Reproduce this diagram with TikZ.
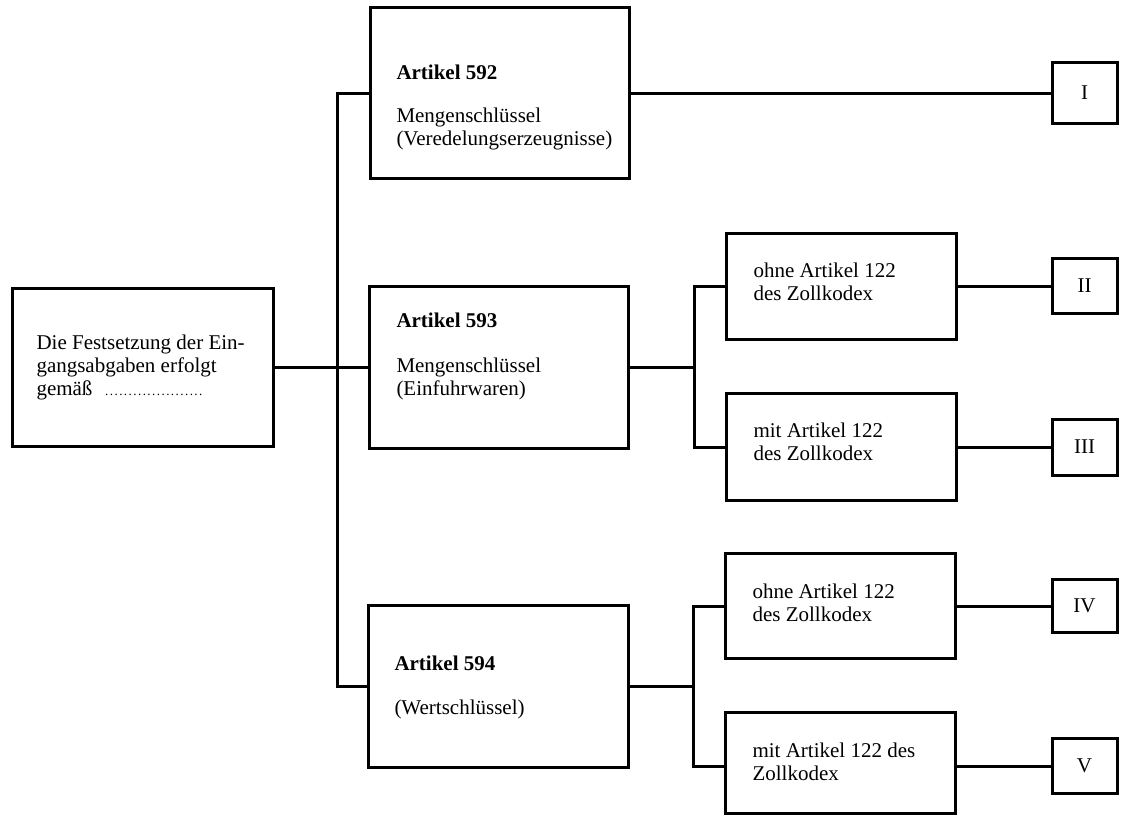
\documentclass[tikz,border=0pt]{standalone}
\usepackage{fontspec}
\setmainfont{Liberation Serif}
\newcommand{\leaderdots}[1]{\makebox[#1]{\fontsize{13}{13}\selectfont\leaders\hbox to 4.7pt{\hss.\hss}\hfill}}

\begin{document}
\begin{tikzpicture}[x=1pt,y=-1pt,line width=3pt,
    box/.style={draw,rectangle,inner sep=0pt,font=\fontsize{21}{23}\selectfont},
    txt/.style={anchor=north west,inner sep=0pt,align=left,font=\fontsize{21}{23}\selectfont}]
                \useasboundingbox (0,0) rectangle (1122,816);

                % boxes
                \node[box,minimum width=261pt,minimum height=158pt] (start) at (142.5,367) {};
                \node[box,minimum width=259pt,minimum height=170pt] (art592) at (499.5,93) {};
                \node[box,minimum width=259pt,minimum height=162pt] (art593) at (498.5,367) {};
                \node[box,minimum width=260pt,minimum height=162pt] (art594) at (498,686) {};
                \node[box,minimum width=230pt,minimum height=106pt] (ohneA) at (841,286) {};
                \node[box,minimum width=230pt,minimum height=107pt] (mitA) at (841,446.5) {};
                \node[box,minimum width=230pt,minimum height=105pt] (ohneB) at (840.5,606) {};
                \node[box,minimum width=230pt,minimum height=101pt] (mitB) at (840.5,763) {};

                \node[box,minimum width=65pt,minimum height=61pt] (resI) at (1084.5,93) {I};
                \node[box,minimum width=65pt,minimum height=55pt] (resII) at (1084.5,286) {II};
                \node[box,minimum width=65pt,minimum height=56pt] (resIII) at (1084.5,447) {III};
                \node[box,minimum width=65pt,minimum height=53pt] (resIV) at (1084.5,606) {IV};
                \node[box,minimum width=65pt,minimum height=55pt] (resV) at (1084.5,766) {V};

                % texts
                \node[txt] (tstart) at (35,333.5) {Die Festsetzung der Ein-\\gangsabgaben erfolgt\\gemäß\hspace{12pt}\leaderdots{103pt}};
                \node[txt] (t592) at (395,63.5) {\textbf{Artikel 592}\\[20pt]Mengenschlüssel\\(Veredelungserzeugnisse)};
                \node[txt] (t593) at (395,311.5) {\textbf{Artikel 593}\\[22pt]Mengenschlüssel\\(Einfuhrwaren)};
                \node[txt] (t594) at (393,654.5) {\textbf{Artikel 594}\\[21pt](Wertschlüssel)};
                \node[txt] (tohneA) at (752,261.5) {ohne Artikel 122\\des Zollkodex};
                \node[txt] (tmitA) at (752,421.5) {mit Artikel 122\\des Zollkodex};
                \node[txt] (tohneB) at (751,582.5) {ohne Artikel 122\\des Zollkodex};
                \node[txt] (tmitB) at (751,741.5) {mit Artikel 122 des\\Zollkodex};

                % connectors
                \coordinate (spine) at (337,0);
                \coordinate (forkA) at (694,0);
                \coordinate (forkB) at (693,0);

                \draw (start.east) -- (art593.west);
                \draw (art592.west) -| (spine |- art594.west) -- (art594.west);

                \draw (art593.east) -- (art593.east -| forkA);
                \draw (ohneA.west) -| (forkA |- resIII.west) -- (resIII.west -| mitA.west);

                \draw (art594.east) -- (art594.east -| forkB);
                \draw (ohneB.west) -| (forkB |- resV.west) -- (resV.west -| mitB.west);

                \draw (art592.east) -- (resI.west);
                \draw (ohneA.east) -- (resII.west);
                \draw (resIII.west -| mitA.east) -- (resIII.west);
                \draw (resIV.west -| ohneB.east) -- (resIV.west);
                \draw (resV.west -| mitB.east) -- (resV.west);
            \end{tikzpicture}
\end{document}
